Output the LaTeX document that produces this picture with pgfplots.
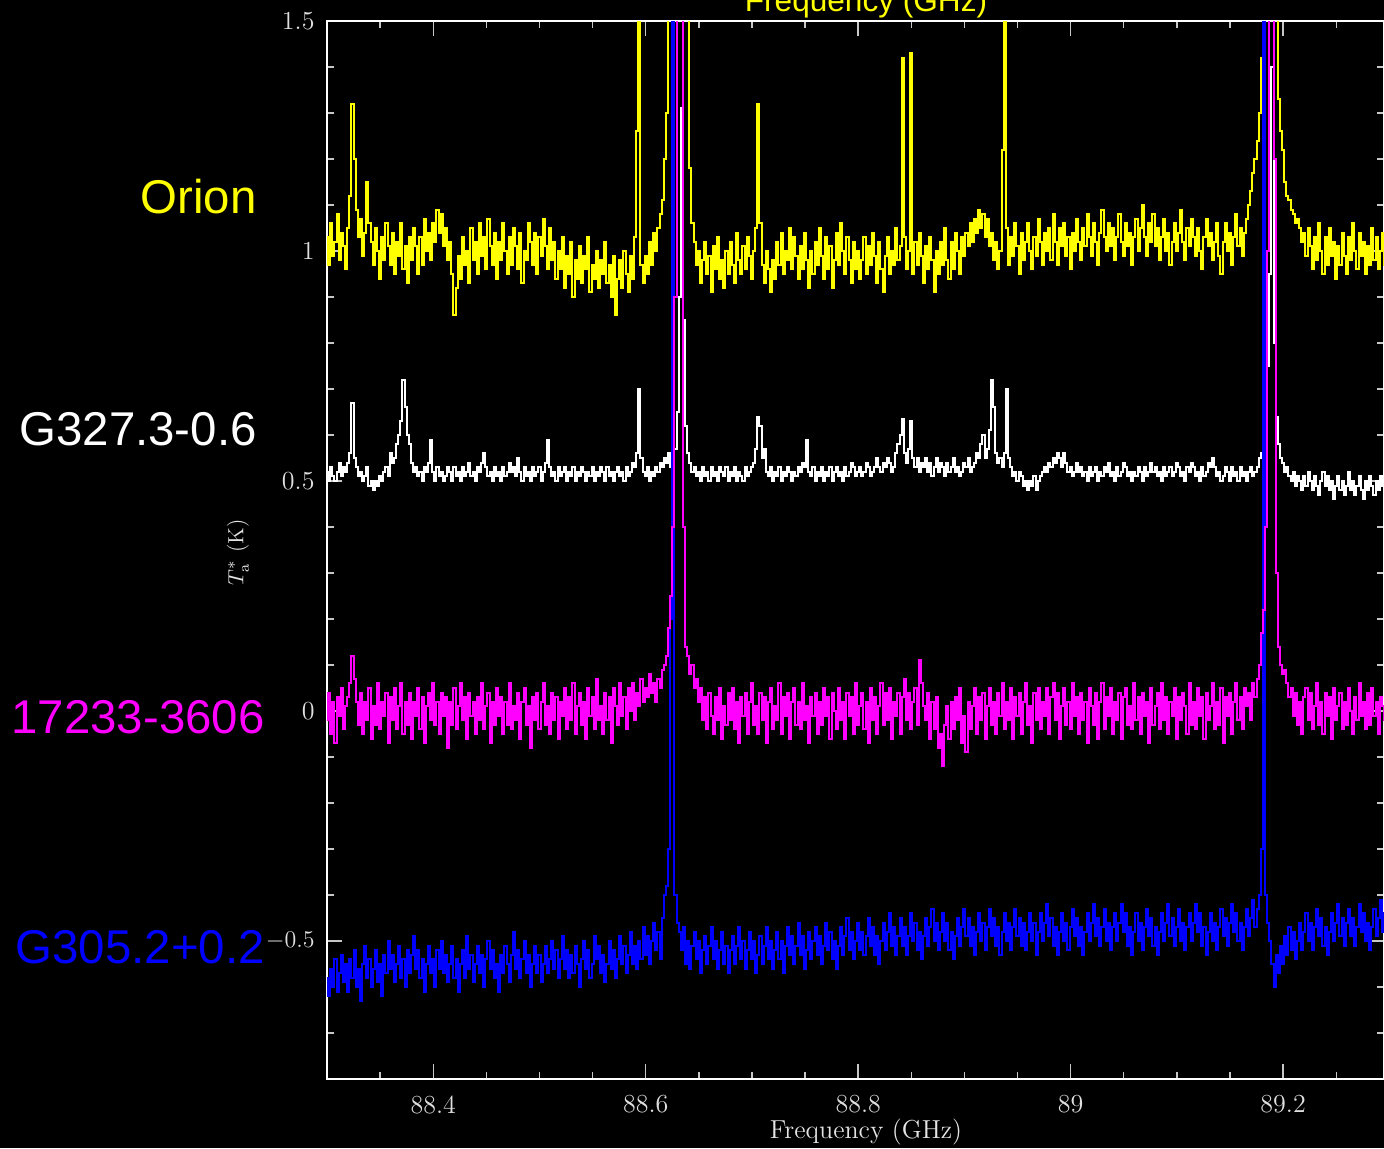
\documentclass[border=0pt]{standalone}
\usepackage{pgfplots}
\pgfplotsset{compat=1.18}
\usepackage{pgfplotstable}
\usepackage{fontspec}
\newfontfamily\lsans{Liberation Sans}
\definecolor{cY}{RGB}{255,255,0}
\definecolor{cM}{RGB}{255,0,255}
\definecolor{cB}{RGB}{0,0,255}
\pgfplotstableread[row sep=\\]{y\\
1.03\\0.97\\1.06\\0.99\\1.02\\1.08\\0.98\\1.04\\1.01\\0.96\\
1.05\\1.12\\1.32\\1.20\\1.09\\1.03\\1.07\\0.99\\1.04\\1.15\\
1.06\\1.02\\0.97\\1.05\\1.00\\0.94\\1.03\\0.98\\1.06\\1.01\\
0.97\\1.04\\0.95\\1.02\\0.99\\1.06\\0.96\\1.01\\0.93\\1.03\\
0.98\\1.05\\1.01\\0.95\\1.03\\0.97\\1.07\\1.00\\1.04\\0.98\\
1.06\\1.02\\1.09\\1.04\\1.08\\1.01\\1.05\\0.98\\1.02\\0.95\\
0.86\\0.92\\0.99\\0.94\\1.03\\0.97\\1.00\\0.93\\1.05\\0.98\\
1.02\\0.95\\1.06\\0.99\\1.03\\0.96\\1.07\\1.01\\0.97\\1.04\\
0.94\\1.02\\0.98\\1.06\\1.00\\0.95\\1.03\\0.97\\1.05\\1.01\\
0.96\\1.04\\0.93\\1.00\\0.98\\1.06\\1.02\\0.97\\1.04\\0.95\\
1.03\\0.99\\1.07\\1.01\\0.96\\1.05\\0.98\\1.02\\0.94\\1.00\\
0.96\\1.03\\0.92\\0.99\\0.95\\1.02\\0.90\\0.98\\0.94\\1.01\\
0.93\\0.99\\0.96\\1.03\\0.91\\0.97\\0.94\\1.00\\0.92\\0.98\\
0.95\\1.02\\0.93\\0.97\\0.90\\0.99\\0.86\\0.94\\0.98\\0.92\\
1.00\\0.95\\0.91\\0.99\\0.94\\1.03\\1.26\\1.80\\0.97\\0.93\\
0.99\\0.95\\1.02\\0.97\\1.04\\1.00\\1.05\\1.08\\1.11\\1.20\\
1.30\\1.70\\2.00\\2.30\\2.50\\2.60\\2.50\\2.30\\2.00\\1.80\\
1.60\\1.18\\1.06\\1.02\\0.97\\1.00\\0.93\\0.98\\1.02\\0.95\\
0.99\\0.91\\1.01\\0.96\\1.03\\0.94\\0.98\\0.92\\1.00\\0.95\\
1.02\\0.97\\0.93\\1.04\\0.98\\0.95\\1.01\\0.96\\1.03\\0.99\\
0.94\\1.00\\1.05\\1.32\\1.06\\0.97\\0.93\\1.00\\0.96\\0.91\\
0.98\\0.94\\1.02\\0.97\\1.04\\0.95\\1.00\\0.98\\1.05\\0.96\\
1.03\\0.99\\0.94\\1.01\\0.96\\1.04\\0.98\\0.92\\1.00\\0.95\\
1.02\\0.97\\1.05\\0.99\\0.94\\1.03\\0.96\\1.01\\0.92\\0.98\\
1.04\\0.97\\1.06\\1.00\\0.95\\1.03\\0.98\\0.93\\1.02\\0.96\\
1.00\\0.94\\0.98\\1.03\\0.95\\1.01\\0.97\\1.04\\0.99\\0.93\\
1.02\\0.96\\0.91\\0.99\\1.03\\0.95\\1.00\\0.97\\1.05\\0.98\\
1.01\\1.42\\1.03\\0.96\\1.00\\1.43\\0.95\\1.02\\0.97\\1.04\\
0.99\\0.93\\1.01\\0.96\\1.03\\0.98\\0.91\\1.00\\0.95\\1.02\\
0.97\\1.05\\0.98\\0.94\\1.02\\0.96\\1.04\\1.00\\0.95\\1.03\\
0.99\\1.04\\1.01\\1.06\\1.02\\1.07\\1.04\\1.09\\1.05\\1.08\\
1.03\\1.07\\1.01\\1.04\\0.98\\1.02\\0.96\\1.00\\1.22\\1.70\\
1.05\\0.97\\1.03\\0.99\\1.06\\1.01\\0.95\\1.04\\0.98\\1.02\\
1.06\\1.00\\0.96\\1.03\\0.99\\1.07\\1.02\\0.97\\1.04\\1.00\\
1.05\\0.98\\1.08\\1.02\\0.97\\1.05\\1.01\\1.06\\0.99\\1.03\\
0.96\\1.04\\1.00\\1.07\\1.02\\0.98\\1.05\\1.01\\1.08\\1.03\\
0.99\\1.06\\1.02\\0.97\\1.04\\1.09\\1.03\\1.00\\1.06\\1.01\\
1.05\\0.98\\1.03\\1.08\\1.02\\0.99\\1.06\\1.01\\1.04\\0.97\\
1.03\\1.07\\1.00\\1.05\\1.10\\1.03\\0.99\\1.06\\1.02\\1.08\\
1.01\\1.05\\0.98\\1.03\\1.07\\1.00\\1.04\\0.97\\1.02\\1.06\\
1.00\\1.04\\1.09\\1.02\\0.98\\1.05\\1.01\\1.07\\1.03\\0.99\\
1.05\\1.00\\0.96\\1.03\\1.07\\1.01\\1.04\\0.98\\1.02\\1.06\\
0.99\\0.95\\1.02\\1.06\\1.00\\1.04\\0.97\\1.03\\1.08\\1.01\\
1.05\\0.99\\1.04\\1.07\\1.10\\1.13\\1.17\\1.20\\1.24\\1.30\\
1.42\\1.70\\2.00\\2.30\\2.50\\2.40\\2.20\\1.90\\1.33\\1.26\\
1.22\\1.15\\1.12\\1.11\\1.09\\1.08\\1.06\\1.07\\1.05\\1.02\\
1.04\\0.99\\1.05\\1.01\\0.96\\1.03\\0.98\\1.06\\1.00\\0.95\\
1.03\\0.97\\1.05\\0.99\\1.02\\0.94\\1.01\\0.97\\1.04\\0.99\\
0.95\\1.03\\0.98\\1.06\\1.00\\0.96\\1.04\\0.99\\1.02\\0.95\\
1.01\\0.97\\1.05\\0.98\\1.03\\0.96\\1.00\\1.04\\0.97\\1.02\\
}\orion
\pgfplotstableread[row sep=\\]{y\\
0.52\\0.50\\0.53\\0.51\\0.50\\0.52\\0.54\\0.51\\0.53\\0.52\\
0.54\\0.56\\0.67\\0.55\\0.53\\0.51\\0.52\\0.50\\0.51\\0.53\\
0.49\\0.50\\0.48\\0.50\\0.49\\0.51\\0.50\\0.52\\0.53\\0.51\\
0.56\\0.54\\0.55\\0.58\\0.60\\0.63\\0.72\\0.66\\0.60\\0.58\\
0.54\\0.52\\0.53\\0.51\\0.52\\0.50\\0.53\\0.52\\0.54\\0.59\\
0.52\\0.50\\0.53\\0.51\\0.52\\0.50\\0.51\\0.53\\0.52\\0.50\\
0.53\\0.51\\0.52\\0.50\\0.53\\0.51\\0.52\\0.54\\0.51\\0.52\\
0.50\\0.53\\0.52\\0.54\\0.56\\0.53\\0.51\\0.52\\0.50\\0.53\\
0.51\\0.52\\0.50\\0.53\\0.51\\0.52\\0.54\\0.52\\0.53\\0.51\\
0.55\\0.52\\0.50\\0.53\\0.51\\0.52\\0.50\\0.53\\0.51\\0.52\\
0.53\\0.50\\0.52\\0.54\\0.59\\0.53\\0.51\\0.52\\0.50\\0.53\\
0.51\\0.52\\0.53\\0.50\\0.52\\0.51\\0.53\\0.50\\0.52\\0.51\\
0.53\\0.52\\0.50\\0.52\\0.51\\0.53\\0.50\\0.52\\0.51\\0.53\\
0.52\\0.50\\0.53\\0.51\\0.52\\0.50\\0.52\\0.53\\0.51\\0.52\\
0.50\\0.53\\0.51\\0.52\\0.54\\0.53\\0.56\\0.70\\0.55\\0.52\\
0.51\\0.53\\0.50\\0.52\\0.51\\0.53\\0.52\\0.54\\0.53\\0.55\\
0.54\\0.56\\0.53\\0.55\\0.57\\0.65\\0.90\\1.31\\0.85\\0.62\\
0.56\\0.54\\0.52\\0.53\\0.51\\0.52\\0.50\\0.53\\0.51\\0.52\\
0.50\\0.53\\0.51\\0.52\\0.50\\0.53\\0.52\\0.51\\0.53\\0.50\\
0.52\\0.51\\0.53\\0.50\\0.52\\0.51\\0.50\\0.53\\0.51\\0.52\\
0.53\\0.54\\0.57\\0.64\\0.62\\0.55\\0.57\\0.52\\0.51\\0.53\\
0.50\\0.52\\0.51\\0.53\\0.50\\0.52\\0.51\\0.53\\0.52\\0.50\\
0.52\\0.51\\0.53\\0.52\\0.54\\0.53\\0.59\\0.52\\0.51\\0.53\\
0.50\\0.52\\0.51\\0.53\\0.50\\0.52\\0.51\\0.53\\0.50\\0.52\\
0.53\\0.51\\0.52\\0.50\\0.53\\0.51\\0.52\\0.54\\0.53\\0.51\\
0.52\\0.53\\0.51\\0.52\\0.54\\0.53\\0.51\\0.52\\0.53\\0.55\\
0.53\\0.52\\0.54\\0.53\\0.55\\0.54\\0.52\\0.53\\0.56\\0.58\\
0.60\\0.635\\0.56\\0.54\\0.57\\0.63\\0.55\\0.53\\0.55\\0.52\\
0.54\\0.53\\0.55\\0.52\\0.54\\0.51\\0.53\\0.55\\0.52\\0.54\\
0.53\\0.51\\0.54\\0.52\\0.53\\0.55\\0.52\\0.53\\0.51\\0.52\\
0.54\\0.53\\0.55\\0.52\\0.53\\0.54\\0.56\\0.55\\0.58\\0.60\\
0.55\\0.57\\0.61\\0.72\\0.66\\0.56\\0.54\\0.55\\0.53\\0.56\\
0.70\\0.55\\0.53\\0.51\\0.52\\0.50\\0.52\\0.51\\0.49\\0.50\\
0.48\\0.50\\0.49\\0.51\\0.48\\0.50\\0.51\\0.52\\0.53\\0.52\\
0.54\\0.53\\0.55\\0.54\\0.56\\0.55\\0.53\\0.56\\0.54\\0.52\\
0.53\\0.51\\0.52\\0.54\\0.52\\0.53\\0.51\\0.52\\0.50\\0.53\\
0.51\\0.52\\0.53\\0.50\\0.52\\0.51\\0.53\\0.52\\0.54\\0.51\\
0.52\\0.50\\0.53\\0.51\\0.52\\0.54\\0.53\\0.51\\0.52\\0.50\\
0.52\\0.51\\0.53\\0.52\\0.50\\0.53\\0.51\\0.52\\0.54\\0.52\\
0.53\\0.51\\0.52\\0.50\\0.53\\0.51\\0.52\\0.53\\0.51\\0.52\\
0.54\\0.53\\0.51\\0.52\\0.50\\0.53\\0.52\\0.54\\0.53\\0.51\\
0.52\\0.50\\0.53\\0.51\\0.52\\0.54\\0.53\\0.55\\0.53\\0.51\\
0.52\\0.50\\0.51\\0.53\\0.52\\0.50\\0.53\\0.51\\0.52\\0.50\\
0.53\\0.51\\0.52\\0.50\\0.52\\0.53\\0.51\\0.52\\0.53\\0.55\\
0.56\\0.60\\0.64\\0.75\\0.95\\1.40\\0.80\\0.64\\0.58\\0.55\\
0.54\\0.52\\0.53\\0.51\\0.50\\0.52\\0.49\\0.51\\0.50\\0.48\\
0.51\\0.49\\0.52\\0.50\\0.48\\0.51\\0.49\\0.47\\0.50\\0.52\\
0.49\\0.51\\0.48\\0.50\\0.46\\0.49\\0.51\\0.48\\0.50\\0.47\\
0.49\\0.52\\0.48\\0.50\\0.47\\0.49\\0.51\\0.48\\0.46\\0.50\\
0.48\\0.51\\0.49\\0.47\\0.50\\0.48\\0.51\\0.49\\0.47\\0.50\\
}\gtwo
\pgfplotstableread[row sep=\\]{y\\
-0.02\\0.04\\-0.05\\0.02\\-0.07\\0.03\\-0.01\\0.05\\-0.04\\0.01\\
0.03\\0.06\\0.12\\0.07\\0.02\\-0.03\\0.04\\-0.05\\0.02\\-0.02\\
0.05\\-0.06\\0.01\\-0.03\\0.06\\-0.04\\0.02\\-0.01\\0.04\\-0.07\\
0.03\\-0.02\\0.05\\-0.04\\0.01\\0.06\\-0.05\\0.02\\-0.03\\0.04\\
-0.06\\0.02\\-0.01\\0.05\\-0.04\\0.03\\-0.07\\0.01\\0.04\\-0.02\\
0.06\\-0.03\\0.02\\-0.05\\0.04\\-0.01\\0.03\\-0.08\\0.02\\-0.03\\
0.05\\-0.04\\0.01\\0.06\\-0.02\\0.03\\-0.06\\0.04\\-0.01\\0.02\\
-0.05\\0.03\\-0.02\\0.06\\-0.04\\0.01\\0.04\\-0.07\\0.02\\-0.03\\
0.05\\-0.01\\0.03\\-0.05\\0.02\\-0.03\\0.06\\-0.04\\0.01\\-0.02\\
0.04\\-0.06\\0.02\\0.05\\-0.03\\0.01\\-0.08\\0.03\\-0.02\\0.04\\
-0.04\\0.02\\0.06\\-0.03\\0.01\\-0.05\\0.04\\-0.02\\0.03\\-0.06\\
0.02\\-0.01\\0.05\\-0.04\\0.03\\-0.02\\0.06\\-0.05\\0.01\\0.04\\
-0.03\\0.02\\-0.06\\0.05\\-0.01\\0.03\\-0.04\\0.07\\-0.02\\0.01\\
-0.05\\0.04\\-0.02\\0.03\\-0.07\\0.05\\0.01\\-0.03\\0.06\\-0.01\\
0.03\\-0.04\\0.05\\0.00\\0.06\\-0.02\\0.04\\0.01\\0.07\\0.02\\
0.05\\0.03\\0.08\\0.04\\0.06\\0.02\\0.07\\0.05\\0.09\\0.10\\
0.12\\0.18\\0.25\\0.40\\0.90\\1.80\\2.40\\2.20\\0.40\\0.14\\
0.12\\0.08\\0.10\\0.05\\0.07\\0.02\\0.05\\-0.02\\0.03\\-0.04\\
0.04\\-0.01\\-0.05\\0.03\\-0.02\\0.05\\-0.06\\0.01\\-0.03\\0.04\\
-0.02\\0.05\\-0.04\\0.02\\-0.07\\0.03\\-0.01\\0.04\\-0.05\\0.02\\
0.06\\-0.03\\0.01\\-0.05\\0.04\\-0.02\\0.03\\-0.07\\0.02\\0.05\\
-0.04\\0.01\\-0.02\\0.06\\-0.05\\0.03\\-0.01\\0.04\\-0.06\\0.02\\
0.05\\-0.03\\0.02\\-0.04\\0.06\\-0.02\\0.01\\-0.07\\0.03\\-0.01\\
0.04\\-0.05\\0.02\\-0.03\\0.05\\-0.01\\0.03\\-0.06\\0.04\\0.00\\
-0.04\\0.05\\-0.02\\0.02\\-0.06\\0.04\\-0.01\\0.03\\-0.05\\0.06\\
-0.03\\0.01\\0.04\\-0.04\\0.02\\-0.07\\0.05\\-0.02\\0.03\\-0.05\\
0.01\\0.06\\-0.03\\0.04\\-0.02\\0.05\\-0.06\\0.02\\-0.01\\0.04\\
-0.05\\0.03\\0.07\\-0.02\\0.04\\-0.04\\0.02\\0.05\\-0.03\\0.11\\
0.06\\0.01\\-0.02\\0.04\\-0.06\\0.02\\-0.04\\0.03\\-0.08\\-0.05\\
-0.12\\-0.03\\0.01\\-0.06\\0.02\\-0.04\\0.03\\-0.02\\0.05\\-0.07\\
-0.01\\-0.09\\0.02\\-0.04\\0.01\\0.05\\-0.05\\0.03\\-0.02\\0.04\\
-0.06\\0.01\\0.05\\-0.03\\0.02\\-0.05\\0.04\\-0.01\\0.06\\-0.04\\
0.02\\-0.02\\0.05\\-0.06\\0.03\\-0.01\\0.04\\-0.05\\0.02\\0.06\\
-0.03\\0.01\\-0.07\\0.04\\-0.02\\0.05\\-0.04\\0.02\\-0.01\\0.05\\
-0.05\\0.03\\0.06\\-0.02\\0.04\\-0.06\\0.01\\0.05\\-0.03\\0.02\\
-0.04\\0.06\\-0.01\\0.03\\-0.05\\0.04\\-0.02\\0.02\\-0.07\\0.05\\
0.01\\-0.03\\0.04\\-0.06\\0.02\\0.06\\-0.04\\0.03\\-0.01\\0.05\\
-0.05\\0.02\\-0.02\\0.04\\-0.06\\0.03\\0.05\\-0.03\\0.01\\-0.04\\
0.06\\-0.02\\0.03\\-0.05\\0.04\\-0.01\\0.02\\-0.07\\0.05\\-0.03\\
0.01\\0.04\\-0.04\\0.06\\-0.02\\0.03\\-0.05\\0.02\\-0.01\\0.05\\
-0.06\\0.03\\-0.02\\0.04\\0.01\\-0.05\\0.06\\-0.03\\0.02\\-0.04\\
0.05\\-0.01\\0.03\\-0.06\\0.04\\-0.02\\0.01\\0.06\\-0.04\\0.02\\
-0.03\\0.05\\-0.07\\0.03\\-0.01\\0.04\\-0.05\\0.02\\0.06\\-0.02\\
0.03\\-0.04\\0.05\\0.01\\0.04\\-0.02\\0.06\\0.03\\0.07\\0.10\\
0.17\\0.22\\0.40\\1.00\\2.30\\2.30\\1.20\\0.30\\0.14\\0.10\\
0.08\\0.09\\0.06\\0.03\\0.05\\-0.01\\0.04\\-0.03\\0.02\\-0.05\\
0.03\\0.05\\-0.02\\0.04\\-0.04\\0.01\\0.06\\-0.03\\0.02\\-0.05\\
0.04\\-0.01\\0.03\\-0.06\\0.05\\-0.02\\0.01\\0.04\\-0.04\\0.02\\
-0.03\\0.05\\0.00\\-0.05\\0.03\\-0.02\\0.06\\-0.01\\0.02\\-0.04\\
0.04\\-0.03\\0.05\\-0.01\\0.02\\-0.05\\0.03\\0.01\\-0.02\\0.04\\
}\iras
\pgfplotstableread[row sep=\\]{y\\
-0.58\\-0.62\\-0.56\\-0.60\\-0.54\\-0.61\\-0.57\\-0.53\\-0.59\\-0.55\\
-0.61\\-0.54\\-0.58\\-0.52\\-0.60\\-0.56\\-0.63\\-0.55\\-0.51\\-0.58\\
-0.54\\-0.60\\-0.56\\-0.52\\-0.59\\-0.55\\-0.62\\-0.53\\-0.57\\-0.50\\
-0.56\\-0.53\\-0.59\\-0.55\\-0.51\\-0.58\\-0.54\\-0.60\\-0.52\\-0.57\\
-0.53\\-0.49\\-0.56\\-0.52\\-0.58\\-0.54\\-0.61\\-0.55\\-0.51\\-0.57\\
-0.54\\-0.60\\-0.52\\-0.56\\-0.50\\-0.57\\-0.53\\-0.59\\-0.55\\-0.51\\
-0.58\\-0.54\\-0.61\\-0.55\\-0.52\\-0.58\\-0.49\\-0.56\\-0.53\\-0.59\\
-0.55\\-0.51\\-0.57\\-0.53\\-0.60\\-0.54\\-0.50\\-0.56\\-0.52\\-0.58\\
-0.55\\-0.61\\-0.53\\-0.57\\-0.51\\-0.55\\-0.59\\-0.53\\-0.48\\-0.56\\
-0.52\\-0.58\\-0.54\\-0.50\\-0.57\\-0.53\\-0.60\\-0.55\\-0.51\\-0.57\\
-0.53\\-0.59\\-0.55\\-0.51\\-0.57\\-0.54\\-0.50\\-0.56\\-0.52\\-0.58\\
-0.54\\-0.49\\-0.56\\-0.52\\-0.58\\-0.53\\-0.57\\-0.51\\-0.55\\-0.60\\
-0.54\\-0.50\\-0.56\\-0.52\\-0.58\\-0.55\\-0.49\\-0.54\\-0.51\\-0.57\\
-0.53\\-0.59\\-0.55\\-0.50\\-0.56\\-0.52\\-0.58\\-0.54\\-0.49\\-0.55\\
-0.51\\-0.57\\-0.53\\-0.48\\-0.55\\-0.51\\-0.56\\-0.50\\-0.54\\-0.47\\
-0.53\\-0.49\\-0.55\\-0.50\\-0.46\\-0.52\\-0.48\\-0.54\\-0.45\\-0.40\\
-0.38\\-0.30\\0.20\\2.20\\-0.40\\-0.46\\-0.48\\-0.52\\-0.47\\-0.55\\
-0.50\\-0.56\\-0.51\\-0.48\\-0.54\\-0.50\\-0.57\\-0.52\\-0.49\\-0.55\\
-0.51\\-0.47\\-0.54\\-0.50\\-0.56\\-0.52\\-0.48\\-0.55\\-0.51\\-0.57\\
-0.52\\-0.49\\-0.55\\-0.51\\-0.47\\-0.54\\-0.50\\-0.56\\-0.52\\-0.48\\
-0.54\\-0.50\\-0.57\\-0.53\\-0.49\\-0.55\\-0.51\\-0.47\\-0.54\\-0.50\\
-0.56\\-0.52\\-0.48\\-0.54\\-0.50\\-0.57\\-0.51\\-0.47\\-0.53\\-0.49\\
-0.55\\-0.51\\-0.46\\-0.53\\-0.49\\-0.56\\-0.52\\-0.48\\-0.54\\-0.50\\
-0.47\\-0.53\\-0.49\\-0.55\\-0.51\\-0.46\\-0.52\\-0.48\\-0.54\\-0.50\\
-0.56\\-0.51\\-0.47\\-0.53\\-0.49\\-0.45\\-0.52\\-0.48\\-0.54\\-0.50\\
-0.46\\-0.52\\-0.48\\-0.53\\-0.49\\-0.45\\-0.51\\-0.47\\-0.53\\-0.49\\
-0.55\\-0.50\\-0.46\\-0.52\\-0.48\\-0.44\\-0.51\\-0.47\\-0.53\\-0.49\\
-0.45\\-0.51\\-0.47\\-0.53\\-0.49\\-0.44\\-0.50\\-0.46\\-0.52\\-0.48\\
-0.54\\-0.49\\-0.45\\-0.51\\-0.47\\-0.43\\-0.50\\-0.46\\-0.52\\-0.48\\
-0.44\\-0.50\\-0.46\\-0.52\\-0.48\\-0.54\\-0.49\\-0.45\\-0.51\\-0.47\\
-0.43\\-0.49\\-0.45\\-0.51\\-0.47\\-0.53\\-0.48\\-0.44\\-0.50\\-0.46\\
-0.52\\-0.47\\-0.43\\-0.49\\-0.45\\-0.51\\-0.47\\-0.53\\-0.48\\-0.44\\
-0.50\\-0.46\\-0.52\\-0.47\\-0.43\\-0.49\\-0.45\\-0.51\\-0.46\\-0.52\\
-0.48\\-0.44\\-0.50\\-0.46\\-0.53\\-0.48\\-0.44\\-0.50\\-0.46\\-0.42\\
-0.49\\-0.45\\-0.51\\-0.47\\-0.53\\-0.48\\-0.44\\-0.50\\-0.46\\-0.52\\
-0.47\\-0.43\\-0.49\\-0.45\\-0.51\\-0.47\\-0.53\\-0.48\\-0.44\\-0.50\\
-0.46\\-0.42\\-0.49\\-0.45\\-0.51\\-0.47\\-0.43\\-0.50\\-0.46\\-0.52\\
-0.47\\-0.44\\-0.50\\-0.46\\-0.42\\-0.48\\-0.44\\-0.51\\-0.47\\-0.53\\
-0.48\\-0.44\\-0.50\\-0.46\\-0.52\\-0.47\\-0.43\\-0.49\\-0.45\\-0.51\\
-0.47\\-0.53\\-0.48\\-0.44\\-0.50\\-0.46\\-0.42\\-0.49\\-0.45\\-0.51\\
-0.47\\-0.43\\-0.50\\-0.46\\-0.52\\-0.47\\-0.44\\-0.50\\-0.46\\-0.42\\
-0.48\\-0.44\\-0.51\\-0.47\\-0.53\\-0.48\\-0.44\\-0.50\\-0.46\\-0.52\\
-0.47\\-0.43\\-0.49\\-0.45\\-0.51\\-0.46\\-0.42\\-0.48\\-0.44\\-0.50\\
-0.46\\-0.52\\-0.47\\-0.43\\-0.49\\-0.45\\-0.41\\-0.47\\-0.43\\-0.40\\
-0.30\\2.20\\-0.40\\-0.46\\-0.50\\-0.55\\-0.60\\-0.53\\-0.57\\-0.51\\
-0.55\\-0.49\\-0.53\\-0.47\\-0.52\\-0.48\\-0.54\\-0.50\\-0.46\\-0.52\\
-0.48\\-0.44\\-0.50\\-0.46\\-0.52\\-0.47\\-0.43\\-0.49\\-0.45\\-0.51\\
-0.47\\-0.53\\-0.48\\-0.44\\-0.50\\-0.46\\-0.42\\-0.49\\-0.45\\-0.51\\
-0.46\\-0.43\\-0.49\\-0.45\\-0.51\\-0.47\\-0.42\\-0.48\\-0.44\\-0.50\\
-0.46\\-0.52\\-0.47\\-0.43\\-0.49\\-0.45\\-0.41\\-0.48\\-0.44\\-0.47\\
}\gthree
\begin{document}
\begin{tikzpicture}
\fill[black] (0,0) rectangle (692pt,574pt);
\useasboundingbox (0,0) rectangle (692pt,574pt);
\begin{axis}[
  at={(163.5pt,34.5pt)}, anchor=south west,
  scale only axis, width=528.5pt, height=529pt,
  xmin=88.3, xmax=89.295, ymin=-0.8, ymax=1.5,
  axis line style={white, line width=0.8pt},
  tick align=inside,
  major tick length=7.5pt, minor tick length=3.5pt,
  every tick/.append style={white!78!black, line width=0.7pt},
  xtick={88.4,88.6,88.8,89,89.2},
  xticklabels={88.4,88.6,88.8,89,89.2},
  minor xtick={88.3,88.35,88.45,88.5,88.55,88.65,88.7,88.75,88.85,88.9,88.95,89.05,89.1,89.15,89.25},
  ytick={-0.5,0,0.5,1,1.5},
  yticklabels={$-0.5$,0,0.5,1,1.5},
  minor ytick={-0.8,-0.7,-0.6,-0.4,-0.3,-0.2,-0.1,0.1,0.2,0.3,0.4,0.6,0.7,0.8,0.9,1.1,1.2,1.3,1.4},
  tick label style={text=white!88!black, font=\fontsize{13}{15}\selectfont},
  xticklabel style={yshift=-4.7pt},
  yticklabel style={xshift=-2.7pt},
  clip=true,
]
\addplot[cY, line width=1pt, const plot mark mid] table[x expr=88.3+0.002*\coordindex, y=y] {\orion};
\addplot[white, line width=1pt, const plot mark mid] table[x expr=88.3+0.002*\coordindex, y=y] {\gtwo};
\addplot[cB, line width=1pt, const plot mark mid] table[x expr=88.3+0.002*\coordindex, y=y] {\gthree};
\addplot[cM, line width=1pt, const plot mark mid] table[x expr=88.3+0.002*\coordindex, y=y] {\iras};
\end{axis}
\node[text=white!90!black, font=\fontsize{13}{15}\selectfont] at (433pt,8pt) {Frequency (GHz)};
\node[anchor=base, text=cY, font=\lsans\fontsize{15.8}{18}\selectfont] at (433pt,568pt) {Frequency (GHz)};
\node[rotate=90, text=white!90!black, font=\fontsize{11}{13}\selectfont] at (119pt,298pt) {$T_{\mathrm{a}}^{*}$ (K)};
\node[anchor=base east, inner sep=0pt, text=cY, font=\lsans\fontsize{23.7}{28}\selectfont] at (128.5pt,467pt) {Orion};
\node[anchor=base east, inner sep=0pt, text=white, font=\lsans\fontsize{23.7}{28}\selectfont] at (128.5pt,351.5pt) {G327.3-0.6};
\node[anchor=base east, inner sep=0pt, text=cM, font=\lsans\fontsize{23.7}{28}\selectfont] at (132.5pt,207.5pt) {17233-3606};
\node[anchor=base east, inner sep=0pt, text=cB, font=\lsans\fontsize{23.7}{28}\selectfont] at (132.5pt,92.5pt) {G305.2+0.2};
\end{tikzpicture}
\end{document}
